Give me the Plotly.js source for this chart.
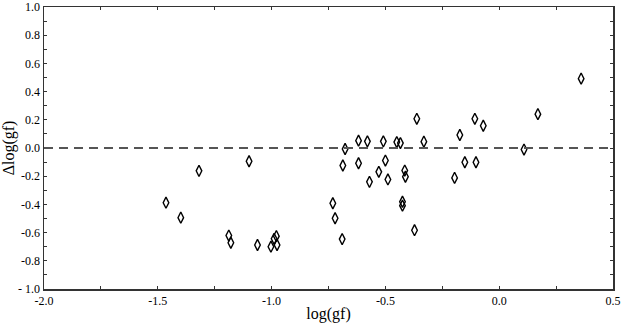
<!DOCTYPE html>
<html><head><meta charset="utf-8">
<script src="https://cdn.plot.ly/plotly-3.0.1.min.js"></script>
<style>html,body{margin:0;padding:0;background:#fff}#c{width:621px;height:323px}</style>
</head><body><div id="c"></div>
<script>
const logGf = [-1.464,-1.399,-1.319,-1.099,-1.188,-1.179,-1.062,-1.003,-0.989,-0.979,-0.976,
  -0.731,-0.721,-0.690,-0.687,-0.677,-0.618,-0.618,-0.579,-0.570,-0.529,-0.509,-0.500,-0.489,
  -0.450,-0.434,-0.425,-0.425,-0.415,-0.412,-0.372,-0.362,-0.331,-0.196,-0.173,-0.151,-0.107,
  -0.102,-0.070,0.109,0.170,0.360];
const dLogGf = [-0.388,-0.494,-0.162,-0.094,-0.621,-0.672,-0.688,-0.700,-0.644,-0.625,-0.688,
  -0.392,-0.498,-0.646,-0.124,-0.007,0.052,-0.108,0.047,-0.240,-0.169,0.047,-0.089,-0.223,
  0.042,0.035,-0.381,-0.409,-0.160,-0.204,-0.583,0.207,0.045,-0.212,0.092,-0.101,0.207,
  -0.101,0.158,-0.011,0.240,0.492];
const xTickVals = [-2.0,-1.5,-1.0,-0.5,0.0,0.5];
const xTickText = ['-2.0','-1.5','-1.0','-0.5','0.0','0.5'];
const yTickVals = [-1.0,-0.8,-0.6,-0.4,-0.2,0.0,0.2,0.4,0.6,0.8,1.0];
const yTickText = ['- 1.0','-0.8','-0.6','-0.4','-0.2','0.0','0.2','0.4','0.6','0.8','1.0'];

const font = {family:'Liberation Serif, Times New Roman, serif', color:'#000'};
const trace = {
  x: logGf, y: dLogGf, type:'scatter', mode:'markers',
  marker:{symbol:'diamond-tall-open', size:8, color:'#000', line:{width:1.4, color:'#000'}},
  hoverinfo:'skip'
};
const axBase = {
  showgrid:false, zeroline:false, showline:true, linecolor:'#333', linewidth:1.5,
  mirror:'ticks', ticks:'inside', ticklen:3, tickwidth:1, tickcolor:'#333',
  tickmode:'array', ticklabeloverflow:'allow', tickfont:Object.assign({size:12}, font)
};
const layout = {
  width:621, height:323, margin:{l:44, r:8, t:7, b:34},
  paper_bgcolor:'#fff', plot_bgcolor:'#fff', showlegend:false, font:font,
  xaxis: Object.assign({}, axBase, {
    range:[-2.0,0.5], tickvals:xTickVals, ticktext:xTickText,
    minor:{dtick:0.25, tick0:0, ticks:'inside', ticklen:3, tickcolor:'#333', showgrid:false},
    title:{text:'log(gf)', font:Object.assign({size:16}, font), standoff:4}
  }),
  yaxis: Object.assign({}, axBase, {
    range:[-1.0,1.0], tickvals:yTickVals, ticktext:yTickText,
    minor:{dtick:0.1, tick0:0, ticks:'inside', ticklen:3, tickcolor:'#333', showgrid:false},
    title:{text:'Δlog(gf)', font:Object.assign({size:16}, font), standoff:6}
  }),
  shapes:[{type:'line', xref:'paper', x0:0, x1:1, yref:'y', y0:0, y1:0,
    line:{color:'#555', width:2, dash:'9px,6px'}}]
};
Plotly.newPlot('c', [trace], layout, {staticPlot:true});
</script></body></html>
